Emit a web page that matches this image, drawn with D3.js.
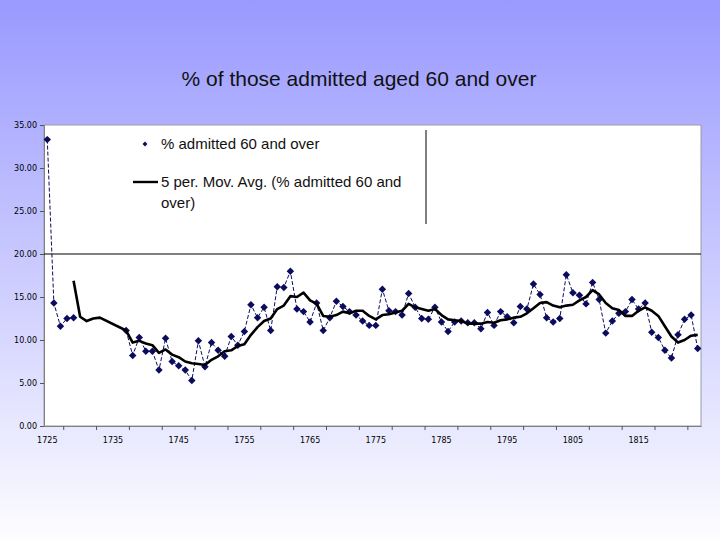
<!DOCTYPE html>
<html>
<head>
<meta charset="utf-8">
<script src="https://cdn.jsdelivr.net/npm/d3@7"></script>
<style>
  body { margin: 0; }
  text { font-family: "Liberation Sans", Arial, sans-serif; }
  .tick text { font-family: "DejaVu Sans", Verdana, sans-serif; font-size: 8px; fill: #000; }
</style>
</head>
<body>
<div id="chart"></div>
<script>
/* % admitted aged 60+ with 5-period moving average */

const years = d3.range(1725, 1825);
const yearLabels = [1725, 1735, 1745, 1755, 1765, 1775, 1785, 1795, 1805, 1815];
const yTicks = [0, 5, 10, 15, 20, 25, 30, 35];

// % admitted 60 and over (null = no data)
const pct60 = [
  33.3, 14.3, 11.6, 12.5, 12.6, null, null, null, null, null,
  null, null, 11.1, 8.2, 10.3, 8.7, 8.7, 6.5, 10.2, 7.5,
  7.0, 6.5, 5.3, 9.9, 6.9, 9.7, 8.8, 8.1, 10.4, 9.4,
  11.0, 14.1, 12.6, 13.8, 11.1, 16.2, 16.1, 18.0, 13.6, 13.3,
  12.1, 14.3, 11.1, 12.6, 14.5, 13.9, 13.3, 12.9, 12.2, 11.7,
  11.7, 15.9, 13.4, 13.3, 12.9, 15.4, 13.8, 12.5, 12.4, 13.8,
  12.1, 11.0, 12.1, 12.2, 12.0, 12.0, 11.3, 13.2, 11.7, 13.3,
  12.7, 12.0, 13.9, 13.6, 16.5, 15.3, 12.6, 12.1, 12.5, 17.6,
  15.5, 15.2, 14.2, 16.7, 14.7, 10.8, 12.2, 13.1, 13.3, 14.7,
  13.6, 14.3, 10.9, 10.3, 8.8, 7.9, 10.6, 12.4, 12.9, 9.0
];

// 5 per. Mov. Avg.
const movAvg = [
  null, null, null, null, 16.9, 12.7, 12.2, 12.5, 12.6, null,
  null, null, 11.1, 9.7, 9.9, 9.6, 9.4, 8.5, 8.9, 8.3,
  8.0, 7.5, 7.3, 7.2, 7.1, 7.7, 8.1, 8.7, 8.8, 9.3,
  9.5, 10.6, 11.5, 12.2, 12.5, 13.6, 14.0, 15.1, 15.0, 15.5,
  14.6, 14.2, 12.8, 12.7, 12.9, 13.3, 13.1, 13.4, 13.4, 12.8,
  12.4, 12.9, 13.0, 13.2, 13.4, 14.2, 13.8, 13.6, 13.4, 13.6,
  12.9, 12.4, 12.3, 12.2, 11.9, 11.9, 11.9, 12.1, 12.0, 12.3,
  12.4, 12.6, 12.7, 13.1, 13.7, 14.3, 14.4, 14.0, 13.8, 14.0,
  14.1, 14.6, 15.0, 15.8, 15.3, 14.3, 13.7, 13.5, 12.8, 12.8,
  13.4, 13.8, 13.4, 12.8, 11.6, 10.4, 9.7, 10.0, 10.5, 10.6
];

const W = 720, H = 540;
const plot = { left: 44, right: 701, top: 125, bottom: 426 };
const NAVY = "#0c0c5e";

const svg = d3.select("#chart").append("svg")
  .attr("width", W).attr("height", H);

// Background gradient
const grad = svg.append("defs").append("linearGradient")
  .attr("id", "bg").attr("x1", 0).attr("y1", 0).attr("x2", 0).attr("y2", 1);
grad.append("stop").attr("offset", "0%").attr("stop-color", "#9999ff");
grad.append("stop").attr("offset", "100%").attr("stop-color", "#fdfdff");
svg.append("rect").attr("width", W).attr("height", H).attr("fill", "url(#bg)");

// Title
svg.append("text")
  .attr("x", 359).attr("y", 86)
  .attr("text-anchor", "middle")
  .attr("font-size", 21)
  .attr("fill", "#111")
  .text("% of those admitted aged 60 and over");

// Plot area
svg.append("rect")
  .attr("x", plot.left).attr("y", plot.top)
  .attr("width", plot.right - plot.left).attr("height", plot.bottom - plot.top)
  .attr("fill", "#fff").attr("stroke", "#9a9aa8").attr("stroke-width", 1);

const x = d3.scaleBand().domain(years).range([plot.left, plot.right]);
const cx = yr => x(yr) + x.bandwidth() / 2;
const y = d3.scaleLinear().domain([0, 35]).range([plot.bottom, plot.top]);

// Y axis
const yAxis = svg.append("g")
  .attr("transform", `translate(${plot.left},0)`)
  .call(d3.axisLeft(y).tickValues(yTicks).tickFormat(d3.format(".2f")).tickSize(4).tickPadding(3));
yAxis.select(".domain").attr("stroke", "#808080");
yAxis.selectAll(".tick line").attr("stroke", "#555");

// X axis: labels every 10 years, tick marks every 5
const xAxis = svg.append("g")
  .attr("transform", `translate(0,${plot.bottom})`)
  .call(d3.axisBottom(x).tickValues(yearLabels).tickSize(0).tickPadding(11));
xAxis.select(".domain").attr("stroke", "#808080");

const tickYears = years.filter(yr => (yr - 1728) % 5 === 0);
svg.append("g").selectAll("line")
  .data(tickYears).join("line")
  .attr("x1", d => x(d)).attr("x2", d => x(d))
  .attr("y1", plot.bottom).attr("y2", plot.bottom + 4)
  .attr("stroke", "#555");

// Horizontal line at 20
svg.append("line")
  .attr("x1", plot.left).attr("x2", plot.right)
  .attr("y1", y(20)).attr("y2", y(20))
  .attr("stroke", "#000").attr("stroke-width", 1);

// Legend border remnant
svg.append("line")
  .attr("x1", 426).attr("x2", 426).attr("y1", 130).attr("y2", 224)
  .attr("stroke", "#000").attr("stroke-width", 1);

const pts = years.map((yr, i) => ({ yr, v: pct60[i] }));
const ma = years.map((yr, i) => ({ yr, v: movAvg[i] })).filter(d => d.v != null);

// Data series: dashed connecting line + diamonds
svg.append("path")
  .datum(pts)
  .attr("fill", "none")
  .attr("stroke", NAVY)
  .attr("stroke-width", 1)
  .attr("stroke-dasharray", "4,2")
  .attr("d", d3.line().defined(d => d.v != null).x(d => cx(d.yr)).y(d => y(d.v)));

svg.append("g").selectAll("path")
  .data(pts.filter(d => d.v != null)).join("path")
  .attr("d", d3.symbol(d3.symbolSquare, 28))
  .attr("transform", d => `translate(${cx(d.yr)},${y(d.v)}) rotate(45)`)
  .attr("fill", NAVY);

// Moving average
svg.append("path")
  .datum(ma)
  .attr("fill", "none")
  .attr("stroke", "#000")
  .attr("stroke-width", 2.6)
  .attr("stroke-linejoin", "round")
  .attr("d", d3.line().x(d => cx(d.yr)).y(d => y(d.v)));

// Legend
const legend = svg.append("g");
legend.append("path")
  .attr("d", d3.symbol(d3.symbolSquare, 12))
  .attr("transform", "translate(145,144) rotate(45)")
  .attr("fill", NAVY);
legend.append("text")
  .attr("x", 161).attr("y", 149)
  .attr("font-size", 15).attr("fill", "#111")
  .text("% admitted 60 and over");
legend.append("line")
  .attr("x1", 133).attr("x2", 158).attr("y1", 182).attr("y2", 182)
  .attr("stroke", "#000").attr("stroke-width", 2.4);
legend.append("text")
  .attr("x", 161).attr("y", 187)
  .attr("font-size", 15).attr("fill", "#111")
  .text("5 per. Mov. Avg. (% admitted 60 and");
legend.append("text")
  .attr("x", 161).attr("y", 208)
  .attr("font-size", 15).attr("fill", "#111")
  .text("over)");
</script>
</body>
</html>
